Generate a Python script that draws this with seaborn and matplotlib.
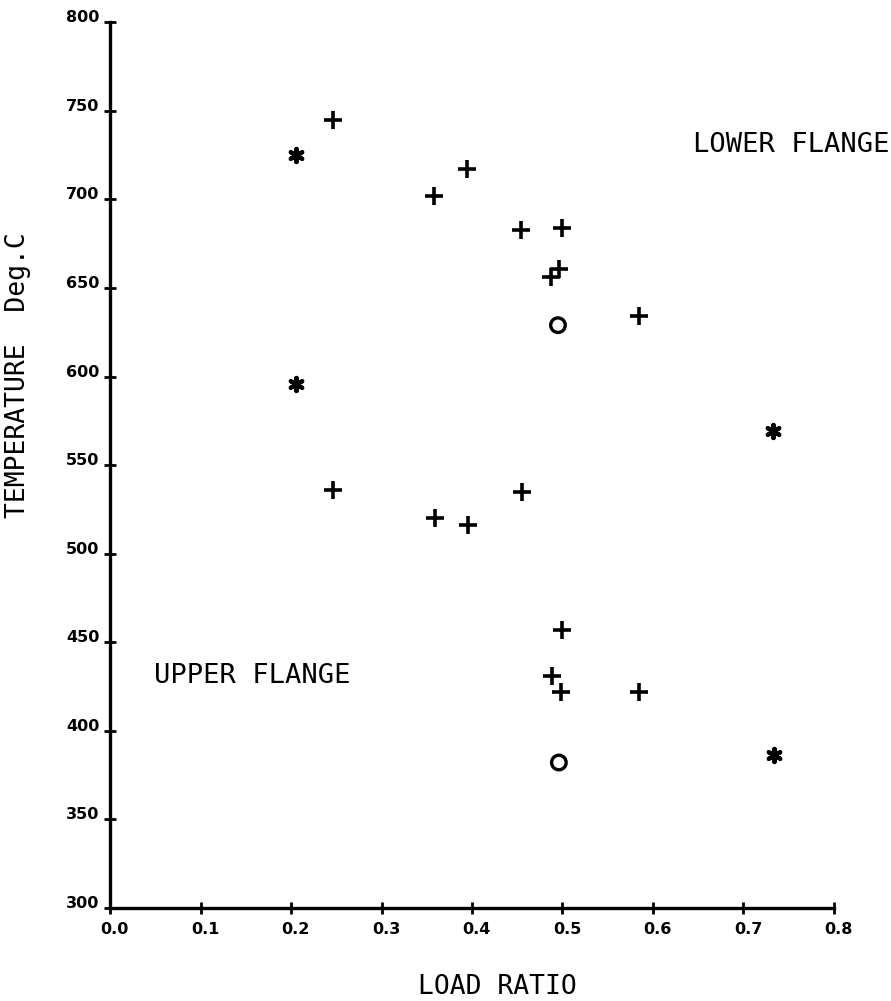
import matplotlib
matplotlib.use('Agg')
import matplotlib.pyplot as plt
import matplotlib.transforms as mtransforms
import seaborn as sns
import pandas as pd

# load ratio / temperature, per symbol and flange
plus_lower_ratio = [0.246, 0.358, 0.395, 0.454, 0.499, 0.496, 0.487, 0.585]
plus_lower_temp = [745, 702, 717, 683, 684, 661, 656, 634]
plus_upper_ratio = [0.246, 0.359, 0.396, 0.455, 0.500, 0.488, 0.498, 0.585]
plus_upper_temp = [536, 520, 516, 535, 457, 431, 422, 422]

star_lower_ratio = [0.206, 0.733]
star_lower_temp = [725, 569]
star_upper_ratio = [0.206, 0.734]
star_upper_temp = [596, 386]

circle_lower_ratio = [0.495]
circle_lower_temp = [629]
circle_upper_ratio = [0.496]
circle_upper_temp = [382]

x_ticks = [0.0, 0.1, 0.2, 0.3, 0.4, 0.5, 0.6, 0.7, 0.8]
y_ticks = [300, 350, 400, 450, 500, 550, 600, 650, 700, 750, 800]


def make_df(r1, t1, r2, t2):
    return pd.DataFrame({
        'ratio': r1 + r2,
        'temp': t1 + t2,
        'flange': ['lower'] * len(r1) + ['upper'] * len(r2),
    })


plus_df = make_df(plus_lower_ratio, plus_lower_temp, plus_upper_ratio, plus_upper_temp)
star_df = make_df(star_lower_ratio, star_lower_temp, star_upper_ratio, star_upper_temp)
circle_df = make_df(circle_lower_ratio, circle_lower_temp, circle_upper_ratio, circle_upper_temp)

sns.set_style('ticks')
plt.rcParams['font.family'] = ['DejaVu Sans Mono', 'DejaVu Sans']
plt.rcParams['text.color'] = 'black'
plt.rcParams['axes.labelcolor'] = 'black'
plt.rcParams['xtick.color'] = 'black'
plt.rcParams['ytick.color'] = 'black'

fig = plt.figure(figsize=(8.91, 10.01), dpi=100)
ax = fig.add_axes([0.1235, 0.0932, 0.8125, 0.8844])

sns.scatterplot(data=plus_df, x='ratio', y='temp', marker='+', s=150,
                color='black', linewidth=2.6, ax=ax, legend=False)
sns.scatterplot(data=star_df, x='ratio', y='temp', marker=(6, 2, 0), s=90,
                color='black', linewidth=3.0, ax=ax, legend=False)
sns.scatterplot(data=circle_df, x='ratio', y='temp', marker='o', s=110,
                facecolor='none', edgecolor='black', linewidth=2.4, ax=ax, legend=False)

ax.set_xlim(0, 0.8)
ax.set_ylim(300, 800)
ax.set_xticks(x_ticks)
ax.set_yticks(y_ticks)
ax.set_xticklabels([f'{v:.1f}' for v in x_ticks], fontfamily='DejaVu Sans',
                   fontweight='bold', fontsize=11.5, color='black')
ax.set_yticklabels([str(v) for v in y_ticks], fontfamily='DejaVu Sans',
                   fontweight='bold', fontsize=11.5, color='black')
ax.tick_params(direction='inout', length=9, width=2, color='black', pad=6)
ax.tick_params(axis='y', pad=3)

sns.despine(ax=ax)
for side in ['left', 'bottom']:
    ax.spines[side].set_linewidth(2.4)
    ax.spines[side].set_color('black')

# plotter labels sit a little off their ticks
for lbl in ax.get_xticklabels():
    lbl.set_transform(lbl.get_transform() + mtransforms.ScaledTranslation(4.5 / 100, 0, fig.dpi_scale_trans))
for lbl in ax.get_yticklabels():
    lbl.set_transform(lbl.get_transform() + mtransforms.ScaledTranslation(0, 6 / 100, fig.dpi_scale_trans))

ax.set_xlabel('LOAD RATIO', fontsize=19, va='center')
ax.xaxis.set_label_coords(0.535, -0.0896)
ax.set_ylabel('TEMPERATURE  Deg.C', fontsize=19, va='center')
ax.yaxis.set_label_coords(-0.127, 0.602)

ax.text(0.753, 731, 'LOWER FLANGE', fontsize=19.5, ha='center', va='center')
ax.text(0.157, 431, 'UPPER FLANGE', fontsize=19.5, ha='center', va='center')

fig.savefig('out.png', dpi=100, facecolor='white')
